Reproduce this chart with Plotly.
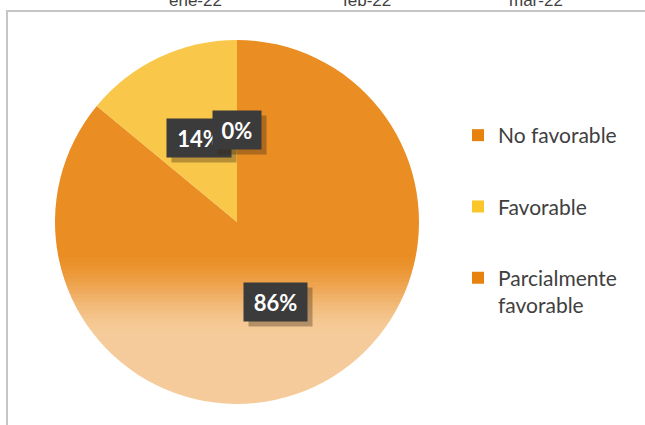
import plotly.graph_objects as go

# ---- data ----
labels = ["No favorable", "Favorable", "Parcialmente favorable"]
legend_labels = ["No favorable", "Favorable", "Parcialmente<br>favorable"]
values = [86, 14, 0]
slice_colors = ["#EA8D22", "#F9C74A", "#E8820E"]
legend_colors = ["#E8820E", "#FBC62A", "#E8820E"]
top_ticks = ["ene-22", "feb-22", "mar-22"]

W, H = 645, 425

def px(x):
    return x / W

def py(y):
    return (H - y) / H

fig = go.Figure()

fig.add_trace(go.Pie(
    labels=labels, values=values, sort=False, direction="clockwise",
    rotation=0, marker=dict(colors=slice_colors, line=dict(width=0)),
    textinfo="none", showlegend=False, hoverinfo="label+percent",
    domain=dict(x=[px(55), px(419)], y=[py(404), py(40)]),
))

for name, col in zip(legend_labels, legend_colors):
    fig.add_trace(go.Scatter(
        x=[None], y=[None], mode="markers", name=name,
        marker=dict(symbol="square", size=12, color=col),
        legendgroup=name, showlegend=True,
    ))

shapes = []
# soft vertical gradient over lower part of the big slice (white overlay)
y0, y1 = 246, 406
step = 4
yy = y0
while yy < y1:
    t = min(max((yy - 246) / (335 - 246), 0), 1)
    a = 0.55 * (t * t * (3 - 2 * t))
    shapes.append(dict(type="rect", xref="paper", yref="paper",
                       x0=px(54), x1=px(421), y0=py(yy + step), y1=py(yy),
                       fillcolor=f"rgba(255,255,255,{a:.3f})", line=dict(width=0),
                       layer="above"))
    yy += step

# frame
shapes.append(dict(type="rect", xref="paper", yref="paper",
                   x0=px(7), x1=1.05, y0=-0.05, y1=py(11),
                   line=dict(color="#c6c6c6", width=2), fillcolor="rgba(0,0,0,0)",
                   layer="above"))

annotations = []
# partial category labels of the chart above (cut off at top)
for t, cx in zip(top_ticks, [195, 367, 536]):
    annotations.append(dict(text=t, x=px(cx), y=py(12), xref="paper", yref="paper",
                            xanchor="center", yanchor="bottom", showarrow=False,
                            font=dict(family="Liberation Sans", size=17, color="#404040")))

# data labels (dark boxes with shadow)
label_pos = {1: (199, 138, 56), 2: (237, 130, 40), 0: (275, 302, 55)}
for idx in [1, 2, 0]:
    cx, cy, w = label_pos[idx]
    txt = f"{values[idx]}%"
    annotations.append(dict(text="", x=px(cx + 5), y=py(cy + 5), xref="paper", yref="paper",
                            xanchor="center", yanchor="middle", showarrow=False,
                            width=w, height=30, borderpad=4,
                            bgcolor="rgba(60,40,20,0.35)", font=dict(size=20)))
    annotations.append(dict(text=f"<b>{txt}</b>", x=px(cx), y=py(cy), xref="paper", yref="paper",
                            xanchor="center", yanchor="middle", showarrow=False,
                            width=w, height=30, borderpad=4, align="center",
                            bgcolor="#3b3b3b",
                            font=dict(family="Lato", size=22, color="white")))

fig.update_layout(
    width=W, height=H,
    margin=dict(l=0, r=0, t=0, b=0),
    paper_bgcolor="white", plot_bgcolor="white",
    xaxis=dict(visible=False), yaxis=dict(visible=False),
    legend=dict(x=px(458), y=py(115), xanchor="left", yanchor="top",
                font=dict(family="Lato", size=21, color="#404040"),
                tracegroupgap=41, valign="top", bgcolor="rgba(0,0,0,0)",
                itemsizing="constant"),
    shapes=shapes, annotations=annotations,
)

fig.write_html("out.html")
